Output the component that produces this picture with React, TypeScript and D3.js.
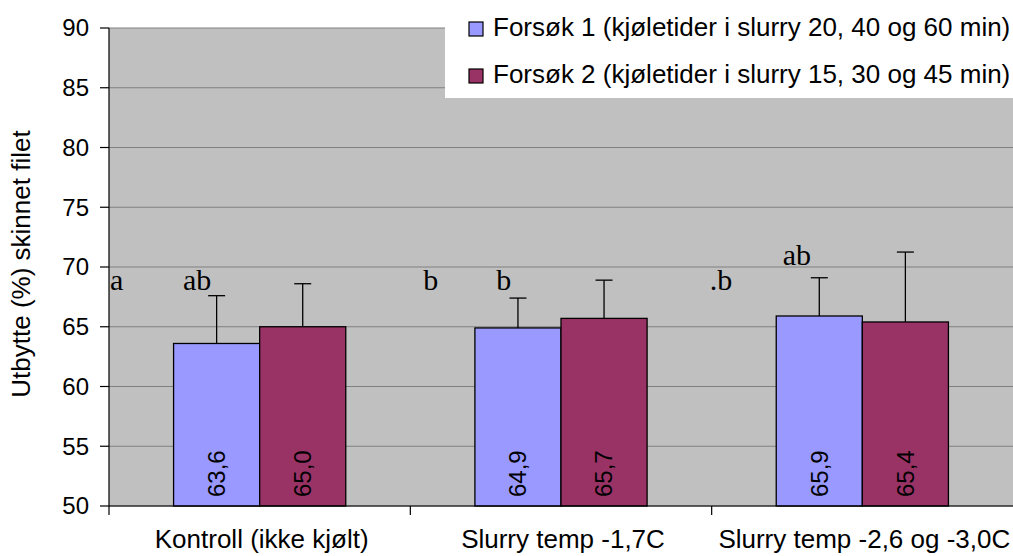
import { useMemo } from 'react';
import * as d3 from 'd3';

// chart values
const categories = ['Kontroll (ikke kjølt)', 'Slurry temp -1,7C', 'Slurry temp -2,6 og -3,0C'];
const seriesNames = [
  'Forsøk 1 (kjøletider i slurry 20, 40 og 60 min)',
  'Forsøk 2 (kjøletider i slurry 15, 30 og 45 min)',
];
const forsok1 = [63.6, 64.9, 65.9];
const forsok2 = [65.0, 65.7, 65.4];
const forsok1Err = [4.0, 2.5, 3.2];
const forsok2Err = [3.6, 3.2, 5.85];
const yTicks = [50, 55, 60, 65, 70, 75, 80, 85, 90];
// significance letters per category (two per group) and the level they sit at
const sigLetters = [['a', 'ab'], ['b', 'b'], ['.b', 'ab']];
const sigLevels = [[68.1, 68.1], [68.1, 68.1], [68.1, 70.2]];

const COLORS = ['#9999FF', '#993366'];
const LETTER_DX = [[1, 74], [13, 86], [-2, 71]];

const W = 1013;
const H = 556;
const margin = { top: 28, right: 0, bottom: 50, left: 109 };

const App = () => {
  const boundsWidth = W - margin.left - margin.right;
  const boundsHeight = H - margin.top - margin.bottom;

  const xScale = useMemo(
    () => d3.scaleBand().domain(categories).range([0, boundsWidth]).padding(0),
    [boundsWidth]
  );
  const xInner = useMemo(
    () =>
      d3
        .scaleBand()
        .domain(['0', '1'])
        .range([0, xScale.bandwidth()])
        .paddingInner(0)
        .paddingOuter(0.75),
    [xScale]
  );
  const yScale = useMemo(
    () => d3.scaleLinear().domain([50, 90]).range([boundsHeight, 0]),
    [boundsHeight]
  );

  const series = [
    { values: forsok1, errs: forsok1Err },
    { values: forsok2, errs: forsok2Err },
  ];

  const bars = series.flatMap((s, si) =>
    categories.map((c, ci) => {
      const x = (xScale(c) ?? 0) + (xInner(String(si)) ?? 0);
      const w = xInner.bandwidth();
      const v = s.values[ci];
      const cx = x + w / 2;
      const yTop = yScale(v);
      const yErr = yScale(v + s.errs[ci]);
      return (
        <g key={`${si}-${ci}`}>
          <rect
            x={x}
            y={yTop}
            width={w}
            height={boundsHeight - yTop}
            fill={COLORS[si]}
            stroke="#000"
            strokeWidth={1.3}
          />
          <line x1={cx} x2={cx} y1={yTop} y2={yErr} stroke="#000" strokeWidth={1.3} />
          <line x1={cx - 8.5} x2={cx + 8.5} y1={yErr} y2={yErr} stroke="#000" strokeWidth={1.3} />
          <text
            transform={`translate(${cx},${boundsHeight - 9}) rotate(-90)`}
            dy="0.35em"
            fontSize={24}
            fontFamily="'Liberation Sans', Arial, sans-serif"
            fill="#000"
          >
            {v.toFixed(1).replace('.', ',')}
          </text>
        </g>
      );
    })
  );

  const letters = categories.flatMap((c, ci) =>
    sigLetters[ci].map((t, k) => (
      <text
        key={`l-${ci}-${k}`}
        x={(xScale(c) ?? 0) + LETTER_DX[ci][k]}
        y={yScale(sigLevels[ci][k])}
        fontSize={30}
        fontFamily="'Liberation Serif', 'Times New Roman', serif"
        fill="#000"
      >
        {t}
      </text>
    ))
  );

  return (
    <svg
      width={W}
      height={H}
      style={{ position: 'absolute', left: 0, top: 0, background: '#fff' }}
      fontFamily="'Liberation Sans', Arial, sans-serif"
    >
      <g transform={`translate(${margin.left},${margin.top})`}>
        <rect x={0} y={0} width={boundsWidth} height={boundsHeight} fill="#C0C0C0" />
        {yTicks.map((t) => (
          <line
            key={`g-${t}`}
            x1={0}
            x2={boundsWidth}
            y1={yScale(t)}
            y2={yScale(t)}
            stroke="#808080"
            strokeWidth={1.2}
          />
        ))}
        {bars}
        {letters}
        {/* y axis */}
        <line x1={0} x2={0} y1={0} y2={boundsHeight} stroke="#000" strokeWidth={1.2} />
        {yTicks.map((t) => (
          <g key={`yt-${t}`} transform={`translate(0,${yScale(t)})`}>
            <line x1={-9} x2={0} stroke="#000" strokeWidth={1.2} />
            <text x={-20} dy="0.35em" textAnchor="end" fontSize={24} fill="#000">
              {t}
            </text>
          </g>
        ))}
        {/* x axis */}
        <line x1={0} x2={boundsWidth} y1={boundsHeight} y2={boundsHeight} stroke="#000" strokeWidth={1.2} />
        {categories.map((c) => (
          <g key={`xt-${c}`}>
            <line
              x1={xScale(c) ?? 0}
              x2={xScale(c) ?? 0}
              y1={boundsHeight}
              y2={boundsHeight + 9}
              stroke="#000"
              strokeWidth={1.2}
            />
            <text
              x={(xScale(c) ?? 0) + xScale.bandwidth() / 2 + 2}
              y={boundsHeight + 42}
              textAnchor="middle"
              fontSize={26}
              fill="#000"
            >
              {c}
            </text>
          </g>
        ))}
      </g>
      {/* y title */}
      <text
        transform={`translate(30,${margin.top + boundsHeight / 2 - 3}) rotate(-90)`}
        textAnchor="middle"
        fontSize={26}
        fill="#000"
      >
        Utbytte (%) skinnet filet
      </text>
      {/* legend */}
      <g>
        <rect x={445} y={0} width={W - 445} height={98} fill="#fff" />
        {seriesNames.map((n, i) => (
          <g key={n} transform={`translate(469,${22 + i * 47})`}>
            <rect x={0} y={0} width={14} height={14} fill={COLORS[i]} stroke="#000" strokeWidth={1.2} />
            <text x={24} y={14} fontSize={26} fill="#000">
              {n}
            </text>
          </g>
        ))}
      </g>
    </svg>
  );
};

export default App;
